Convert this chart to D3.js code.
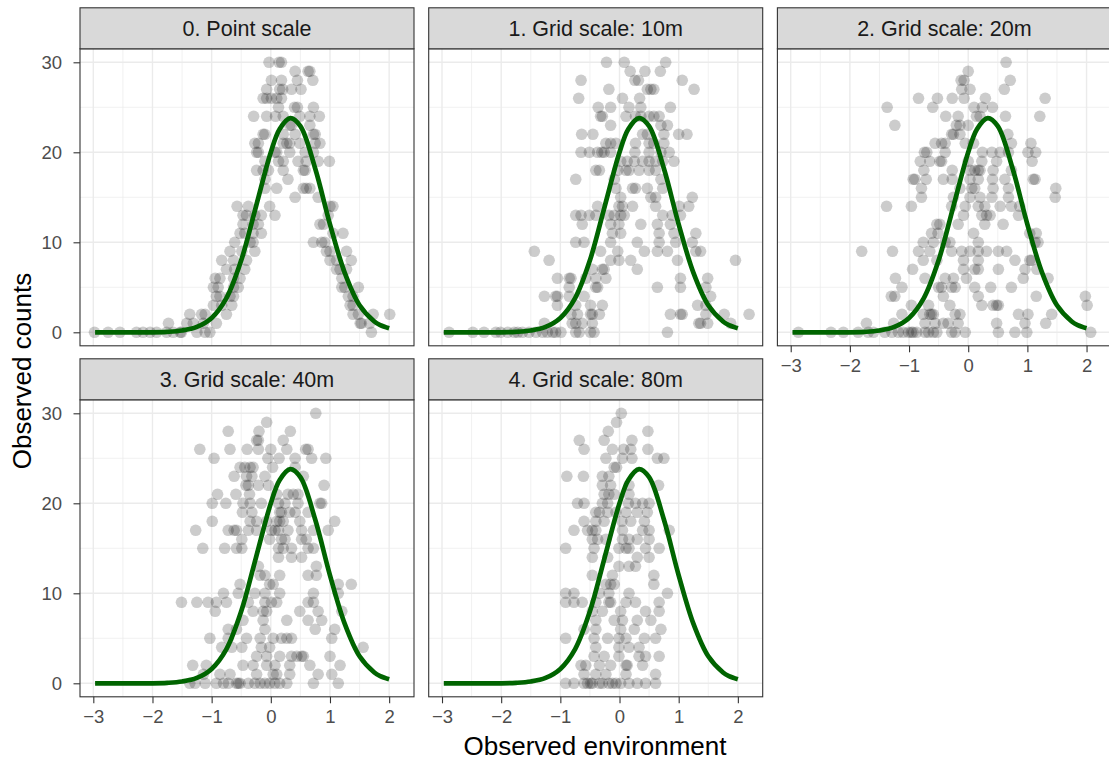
<!DOCTYPE html>
<html>
<head>
<meta charset="utf-8">
<script src="https://cdn.jsdelivr.net/npm/d3@7"></script>
<style>
  body { margin: 0; background: #fff; }
  svg { display: block; font-family: "Liberation Sans", Arial, sans-serif; }
</style>
</head>
<body>
<svg id="chart"></svg>
<script>
// ---- data ----
const panelTitles = ['0. Point scale', '1. Grid scale: 10m', '2. Grid scale: 20m',
                     '3. Grid scale: 40m', '4. Grid scale: 80m'];
const xTicks = [-3, -2, -1, 0, 1, 2];
const yTicks = [0, 10, 20, 30];
const xMinor = [-2.5, -1.5, -0.5, 0.5, 1.5];
const yMinor = [5, 15, 25];

// fitted response curve (same in every panel)
const curveEnv    = [-2.97, -2.5, -2.0, -1.75, -1.5, -1.25, -1.0, -0.75, -0.5, -0.25, 0.0, 0.15, 0.33, 0.5, 0.75, 1.0, 1.25, 1.5, 1.75, 1.85, 2.0];
const curveCounts = [0.0, 0.0, 0.0, 0.05, 0.2, 0.6, 1.6, 3.8, 8.0, 14.0, 20.0, 22.6, 23.8, 22.9, 18.2, 12.0, 6.6, 3.0, 1.2, 0.8, 0.45];

// observed points: [count, [environment values]]
const pointScale = [
  [30, [-0.03, 0.14, 0.18]],
  [29, [0.41, 0.63, 0.66]],
  [28, [0.01, 0.18, 0.45, 0.71]],
  [27, [-0.07, 0.15, 0.20, 0.35, 0.51]],
  [26, [-0.13, -0.07, 0.01, 0.10, 0.18]],
  [25, [0.13, 0.40, 0.45, 0.72]],
  [24, [-0.29, -0.07, 0.08, 0.21, 0.49, 0.66, 0.82]],
  [23, [0.32, 0.35, 0.66]],
  [22, [-0.13, -0.10, 0.21, 0.41, 0.72, 0.75]],
  [21, [-0.27, -0.21, 0.21, 0.27, 0.32, 0.49, 0.75, 0.83]],
  [20, [-0.24, -0.21, 0.07, 0.10, 0.32, 0.58, 0.72]],
  [19, [-0.10, 0.13, 0.21, 0.46, 0.60, 0.80, 0.99]],
  [18, [-0.24, -0.13, -0.04, 0.21, 0.55, 0.58]],
  [17, [-0.10, 0.29]],
  [16, [-0.10, 0.10, 0.55, 0.60, 0.66]],
  [15, [0.41, 0.80]],
  [14, [-0.57, -0.38, -0.02, 1.00, 1.05]],
  [13, [-0.47, -0.41, -0.27, -0.16, 0.07, 0.97]],
  [12, [-0.47, -0.30, -0.21, 0.83, 0.89]],
  [11, [-0.52, -0.44, -0.30, -0.16, 1.05, 1.22]],
  [10, [-0.61, -0.35, -0.30, 0.72, 0.86, 0.91]],
  [9,  [-0.69, -0.49, -0.27, 0.94, 1.00, 1.28]],
  [8,  [-0.83, -0.63, -0.41, 1.00, 1.11, 1.36]],
  [7,  [-0.75, -0.61, -0.44, 1.11, 1.17, 1.28]],
  [6,  [-0.94, -0.86, -0.63, -0.52, 1.20]],
  [5,  [-0.97, -0.89, -0.63, -0.55, 1.20, 1.25, 1.48]],
  [4,  [-0.92, -0.86, -0.69, -0.63, 1.31, 1.39]],
  [3,  [-0.97, -0.83, -0.66, 1.34, 1.39]],
  [2,  [-1.37, -1.17, -1.11, -0.75, 1.39, 1.48, 1.73, 2.01]],
  [1,  [-1.73, -1.42, -1.31, -1.14, -0.92, 1.51, 1.53, 1.67]],
  [0,  [-2.98, -2.75, -2.55, -2.27, -2.16, -2.04, -1.93, -1.76, -1.65, -1.53, -1.51, -1.25, -1.11, -1.03, 1.70]]
];

const grid10 = [
  [30, [-0.22, 0.08, 0.78]],
  [29, [0.18, 0.43, 0.69]],
  [28, [-0.65, 0.26, 0.32, 1.06]],
  [27, [-0.18, 0.47, 0.53, 0.58, 1.26]],
  [26, [-0.69, 0.05, 0.34]],
  [25, [-0.36, -0.15, 0.16, 0.36, 0.86]],
  [24, [-0.32, -0.29, 0.11, 0.27, 0.36, 0.50, 0.58, 0.67]],
  [23, [-0.15, 0.70, 0.81]],
  [22, [-0.64, -0.45, 0.39, 0.47, 0.75, 1.00, 1.14]],
  [21, [-0.23, -0.15, -0.06, 0.27, 0.50, 0.58, 0.75]],
  [20, [-0.65, -0.51, -0.37, -0.30, -0.26, -0.15, 0.26, 0.50, 0.70, 0.84]],
  [19, [0.02, 0.13, 0.25, 0.39, 0.50, 0.61, 0.73, 0.92]],
  [18, [-0.40, -0.34, -0.03, 0.11, 0.16, 0.33, 0.50, 0.61]],
  [17, [-0.74, -0.09, 0.70]],
  [16, [-0.06, 0.22, 0.27, 0.47, 0.73]],
  [15, [0.02, 0.53, 0.61, 1.23]],
  [14, [-0.37, -0.01, 0.05, 0.22, 0.61, 1.01, 1.17]],
  [13, [-0.74, -0.65, -0.51, -0.40, -0.18, -0.09, 0.02, 0.08, 0.73, 0.89, 1.03]],
  [12, [-0.63, -0.15, -0.01, 0.36, 0.64, 0.86]],
  [11, [-0.12, 0.02, 0.67, 0.92, 1.29]],
  [10, [-0.74, -0.60, -0.15, 0.30, 0.67, 0.95, 1.23]],
  [9,  [-1.44, -0.32, -0.03, 0.42, 0.64, 0.81, 1.29, 1.37]],
  [8,  [-1.19, -0.15, -0.01, 0.19, 0.98, 1.96]],
  [7,  [-0.46, -0.29, -0.26, 0.30]],
  [6,  [-1.05, -0.85, -0.82, -0.57, -0.40, -0.23, 1.03, 1.49]],
  [5,  [-0.85, -0.40, -0.37, 0.64, 1.03, 1.46]],
  [4,  [-1.27, -1.08, -1.05, -0.85, -0.60, 1.54]],
  [3,  [-1.05, -0.74, -0.49, -0.29, 1.32, 1.46]],
  [2,  [-0.82, -0.71, -0.49, -0.46, -0.34, 0.86, 1.03, 1.06, 1.46, 1.77, 2.19]],
  [1,  [-1.27, -0.80, -0.74, -0.63, -0.46, 1.34, 1.37, 1.49, 1.88]],
  [0,  [-2.88, -2.48, -2.29, -2.09, -2.01, -1.89, -1.78, -1.72, -1.64, -1.53, -1.41, -1.30, -1.22, -1.13, -1.08, -0.99, -0.74, -0.68, -0.49, -0.43, 0.81]]
];

const grid20 = [
  [30, [0.64]],
  [29, [0.00]],
  [28, [-0.12, -0.07, 0.71]],
  [27, [-0.11, 0.03, 0.61]],
  [26, [-0.84, -0.52, -0.27, -0.07, 0.29, 1.30]],
  [25, [-1.37, -0.60, 0.10, 0.24, 0.41]],
  [24, [-0.38, -0.17, 0.14, 0.20, 0.63, 1.21]],
  [23, [-1.24, -0.20, -0.14, 0.00]],
  [22, [-0.28, -0.25, -0.14, 0.67]],
  [21, [-0.56, -0.45, -0.39, -0.05, 0.09, 0.73, 1.06]],
  [20, [-0.74, -0.70, -0.39, 0.24, 0.40, 0.54, 0.68, 1.01, 1.14]],
  [19, [-0.81, -0.65, -0.48, -0.45, 0.00, 0.23, 0.48, 1.08]],
  [18, [-0.75, -0.27, 0.03, 0.11, 0.17, 0.20, 0.42, 0.73]],
  [17, [-0.93, -0.90, -0.71, -0.42, -0.27, 0.03, 0.17, 0.41, 0.62, 1.10, 1.13]],
  [16, [-0.79, -0.14, 0.06, 0.11, 0.42, 0.68, 1.48]],
  [15, [-0.79, -0.25, 0.03, 0.20, 0.40, 0.68, 1.47]],
  [14, [-1.38, -0.96, -0.28, -0.05, 0.17, 0.28, 0.54, 0.73, 0.87]],
  [13, [-0.08, 0.23, 0.31, 0.37, 0.85]],
  [12, [-0.53, -0.48, -0.17, 0.28, 0.59]],
  [11, [-0.62, -0.51, 0.09, 1.04, 1.15]],
  [10, [-0.76, -0.59, -0.39, -0.31, 0.17, 1.13, 1.18]],
  [9,  [-1.80, -1.28, -0.84, -0.65, -0.28, -0.11, 0.03, 0.17, 0.31, 0.51, 0.65]],
  [8,  [-0.76, -0.53, -0.08, 0.17, 0.79, 1.04, 1.07]],
  [7,  [-0.94, -0.08, 0.11, 0.17, 0.51, 0.96, 1.16]],
  [6,  [-1.23, -0.73, -0.39, -0.25, -0.03, 0.93, 1.35]],
  [5,  [-1.12, -0.50, -0.45, -0.28, -0.22, 0.11, 0.38, 0.73]],
  [4,  [-1.30, -1.24, -0.42, 0.17, 1.15, 1.98]],
  [3,  [-0.96, -0.67, -0.31, 0.23, 0.42, 0.48, 0.51, 2.01]],
  [2,  [-1.12, -0.76, -0.65, -0.62, -0.59, -0.22, -0.14, 0.85, 1.01, 1.41]],
  [1,  [-1.72, -1.26, -0.73, -0.56, -0.42, -0.34, -0.17, 0.48, 0.96, 1.31]],
  [0,  [-2.87, -2.32, -2.11, -1.86, -1.69, -1.60, -1.41, -1.29, -1.18, -1.10, -1.01, -0.96, -0.93, -0.87, -0.73, -0.67, -0.59, -0.53, -0.28, -0.22, -0.05, 0.51, 0.79, 0.99, 2.07]]
];

const grid40 = [
  [30, [0.76]],
  [29, [-0.07]],
  [28, [-0.72, -0.20, 0.33]],
  [27, [-0.24, -0.21, 0.21]],
  [26, [-1.20, -0.69, -0.40, -0.21, 0.00, 0.27, 0.59, 0.63]],
  [25, [-0.96, -0.05, 0.14, 0.41, 0.69, 0.93]],
  [24, [-0.52, -0.44, -0.35, -0.30, 0.03, 0.41]],
  [23, [-0.62, -0.41, -0.32, -0.10, 0.55]],
  [22, [-0.42, -0.38, -0.21, -0.04, 0.90]],
  [21, [-0.90, -0.59, -0.36, 0.10, 0.29, 0.38, 0.46]],
  [20, [-0.99, -0.76, -0.47, -0.35, -0.16, 0.13, 0.24, 0.46, 0.83, 0.86]],
  [19, [-0.48, -0.32, 0.15, 0.18, 0.32, 0.41, 0.63]],
  [18, [-0.99, -0.35, -0.24, -0.07, 0.10, 0.15, 0.21, 0.49, 1.08]],
  [17, [-1.27, -0.72, -0.62, -0.58, -0.38, -0.24, 0.01, 0.07, 0.13, 0.29, 0.52, 0.72, 0.97]],
  [16, [-0.49, -0.02, 0.18, 0.24, 0.52, 0.60]],
  [15, [-1.15, -0.78, -0.58, -0.49, 0.13, 0.21, 0.35, 0.63, 0.72]],
  [14, [0.13, 0.35, 0.52]],
  [13, [-0.21, 0.77]],
  [12, [-0.18, -0.10, 0.15, 0.63, 0.77]],
  [11, [-0.52, -0.02, 0.04, 1.14, 1.36]],
  [10, [-0.80, -0.55, -0.27, -0.10, 0.15, 0.72, 1.14]],
  [9,  [-1.51, -1.25, -1.06, -0.92, -0.75, -0.38, -0.10, 0.01, 0.10, 0.63, 0.72]],
  [8,  [-0.94, -0.30, -0.13, -0.07, 0.49, 0.80, 1.20]],
  [7,  [-0.47, -0.13, 0.27, 0.63, 0.86]],
  [6,  [-0.72, -0.58, -0.10, 0.75, 1.08]],
  [5,  [-1.03, -0.72, -0.41, -0.18, 0.04, 0.18, 0.27, 0.35, 1.03]],
  [4,  [-0.83, -0.66, -0.49, -0.16, -0.02, 1.56]],
  [3,  [-0.24, -0.07, 0.15, 0.35, 0.44, 0.52, 0.55, 1.00]],
  [2,  [-1.32, -1.09, -0.47, -0.30, -0.07, 0.07, 0.32, 0.66, 1.17]],
  [1,  [-1.14, -0.86, -0.69, -0.24, 0.04, 0.10, 0.32, 0.80, 1.03]],
  [0,  [-1.37, -1.28, -1.11, -0.92, -0.80, -0.72, -0.58, -0.55, -0.52, -0.38, -0.27, -0.18, -0.10, -0.02, 0.07, 0.15, 0.27, 0.72, 1.14]]
];

const grid80 = [
  [30, [0.03]],
  [29, [-0.05]],
  [28, [-0.19, 0.48]],
  [27, [-0.68, -0.26, 0.21]],
  [26, [-0.60, -0.12, 0.07, 0.19, 0.48]],
  [25, [-0.23, 0.05, 0.21, 0.64, 0.75]],
  [24, [-0.09, -0.05]],
  [23, [-0.89, -0.61, -0.29, -0.18]],
  [22, [-0.29, -0.15, 0.16, 0.66]],
  [21, [-0.26, -0.18, -0.09, 0.16]],
  [20, [-0.71, -0.60, -0.29, -0.20, 0.15, 0.27, 0.39, 0.50]],
  [19, [-0.40, -0.34, -0.20, -0.06, 0.11, 0.30, 0.47]],
  [18, [-0.60, -0.40, -0.26, 0.04, 0.19, 0.42]],
  [17, [-0.77, -0.54, -0.46, -0.40, 0.05, 0.39, 0.50, 0.84]],
  [16, [-0.46, -0.37, -0.23, 0.05, 0.16, 0.30, 0.50]],
  [15, [-0.91, -0.43, -0.01, 0.11, 0.16, 0.44, 0.67]],
  [14, [-0.46, -0.20, 0.30, 0.50]],
  [13, [-0.01, 0.16, 0.27]],
  [12, [-0.46, -0.12, 0.58]],
  [11, [-0.23, -0.15, -0.09, 0.58]],
  [10, [-0.91, -0.77, -0.34, -0.18, 0.16, 0.81]],
  [9,  [-0.91, -0.77, -0.63, -0.40, -0.18, -0.15, 0.11, 0.27, 0.67]],
  [8,  [-0.46, -0.29, 0.02, 0.44, 0.67]],
  [7,  [-0.40, -0.09, 0.05, 0.30, 0.53]],
  [6,  [-0.60, -0.40, 0.02, 0.25, 0.70]],
  [5,  [-0.91, -0.43, -0.20, -0.01, 0.11, 0.42, 0.61]],
  [4,  [-0.40, -0.01, 0.16, 0.33]],
  [3,  [-0.43, -0.26, -0.01, 0.33, 0.44, 0.67]],
  [2,  [-0.65, -0.57, -0.34, -0.15, 0.11, 0.13, 0.39]],
  [1,  [-0.60, -0.40, -0.23, 0.11, 0.61]],
  [0,  [-0.91, -0.77, -0.60, -0.54, -0.49, -0.46, -0.34, -0.29, -0.18, -0.12, -0.06, 0.02, 0.16, 0.30, 0.44, 0.61]]
];

const panelPoints = [pointScale, grid10, grid20, grid40, grid80];

// ---- one facet of the grid ----
class FacetPanel {
    constructor(_config, _data) {
        this.config = {
            parent: _config.parent,
            left: _config.left,
            top: _config.top,
            width: _config.width || 334,
            height: _config.height || 297,
            stripHeight: _config.stripHeight || 41,
            title: _config.title,
            showY: _config.showY,
            showX: _config.showX,
            id: _config.id
        };
        this.data = _data;
        this.initVis();
    }

    initVis() {
        let vis = this;
        const c = vis.config;

        vis.xScale = d3.scaleLinear().domain([-3.225, 2.42]).range([0, c.width]);
        vis.yScale = d3.scaleLinear().domain([-1.5, 31.5]).range([c.height, 0]);

        vis.g = c.parent.append('g')
            .attr('transform', `translate(${c.left},${c.top + c.stripHeight})`);

        vis.g.append('clipPath').attr('id', 'clip' + c.id)
            .append('rect').attr('width', c.width).attr('height', c.height);

        // grid lines
        const grid = vis.g.append('g');
        grid.selectAll('.xminor').data(xMinor).join('line')
            .attr('x1', d => vis.xScale(d)).attr('x2', d => vis.xScale(d))
            .attr('y1', 0).attr('y2', c.height)
            .attr('stroke', '#ebebeb').attr('stroke-width', 0.7);
        grid.selectAll('.yminor').data(yMinor).join('line')
            .attr('y1', d => vis.yScale(d)).attr('y2', d => vis.yScale(d))
            .attr('x1', 0).attr('x2', c.width)
            .attr('stroke', '#ebebeb').attr('stroke-width', 0.7);
        grid.selectAll('.xmajor').data(xTicks).join('line')
            .attr('x1', d => vis.xScale(d)).attr('x2', d => vis.xScale(d))
            .attr('y1', 0).attr('y2', c.height)
            .attr('stroke', '#ebebeb').attr('stroke-width', 1.4);
        grid.selectAll('.ymajor').data(yTicks).join('line')
            .attr('y1', d => vis.yScale(d)).attr('y2', d => vis.yScale(d))
            .attr('x1', 0).attr('x2', c.width)
            .attr('stroke', '#ebebeb').attr('stroke-width', 1.4);

        const flat = vis.data.flatMap(([count, envs]) => envs.map(e => ({ env: e, count: count })));

        const plot = vis.g.append('g').attr('clip-path', `url(#clip${c.id})`);
        plot.selectAll('circle').data(flat).join('circle')
            .attr('cx', d => vis.xScale(d.env))
            .attr('cy', d => vis.yScale(d.count))
            .attr('r', 5.8)
            .attr('fill', '#000')
            .attr('fill-opacity', 0.2);

        const line = d3.line()
            .x(d => vis.xScale(d[0]))
            .y(d => vis.yScale(d[1]))
            .curve(d3.curveCatmullRom);
        plot.append('path')
            .datum(d3.zip(curveEnv, curveCounts))
            .attr('d', line)
            .attr('fill', 'none')
            .attr('stroke', '#006400')
            .attr('stroke-width', 4.7);

        // border
        vis.g.append('rect')
            .attr('width', c.width).attr('height', c.height)
            .attr('fill', 'none').attr('stroke', '#333333').attr('stroke-width', 1.1);

        // strip
        vis.g.append('rect')
            .attr('y', -c.stripHeight).attr('width', c.width).attr('height', c.stripHeight)
            .attr('fill', '#d9d9d9').attr('stroke', '#333333').attr('stroke-width', 1.1);
        vis.g.append('text')
            .attr('x', c.width / 2).attr('y', -c.stripHeight / 2)
            .attr('dy', '0.36em')
            .attr('text-anchor', 'middle')
            .attr('font-size', '21.5px')
            .attr('fill', '#1a1a1a')
            .text(c.title);

        if (c.showY) {
            const ax = vis.g.append('g')
                .call(d3.axisLeft(vis.yScale).tickValues(yTicks).tickFormat(d3.format('d'))
                    .tickSize(6.5).tickPadding(11.5));
            vis.styleAxis(ax);
        }
        if (c.showX) {
            const ax = vis.g.append('g')
                .attr('transform', `translate(0,${c.height})`)
                .call(d3.axisBottom(vis.xScale).tickValues(xTicks).tickFormat(d3.format('d'))
                    .tickSize(6.5).tickPadding(6.5));
            vis.styleAxis(ax);
        }
    }

    styleAxis(ax) {
        ax.select('.domain').remove();
        ax.selectAll('line').attr('stroke', '#333333').attr('stroke-width', 1.1);
        ax.selectAll('text')
            .attr('fill', '#4d4d4d')
            .attr('font-size', '18.5px')
            .attr('font-family', '"Liberation Sans", Arial, sans-serif');
    }
}

const svg = d3.select('#chart').attr('width', 1109).attr('height', 762);
svg.append('rect').attr('width', 1109).attr('height', 762).attr('fill', '#fff');

const colStep = 348.7, rowStep = 351;
panelTitles.forEach((title, i) => {
    const col = i % 3, row = Math.floor(i / 3);
    new FacetPanel({
        parent: svg,
        id: i,
        left: 80 + col * colStep,
        top: 7.8 + row * rowStep,
        title: title,
        showY: col === 0,
        showX: i >= 2
    }, panelPoints[i]);
});

svg.append('text')
    .attr('x', 595).attr('y', 755)
    .attr('text-anchor', 'middle')
    .attr('font-size', '26px')
    .text('Observed environment');

svg.append('text')
    .attr('transform', 'translate(31,371) rotate(-90)')
    .attr('text-anchor', 'middle')
    .attr('font-size', '26px')
    .text('Observed counts');
</script>
</body>
</html>
